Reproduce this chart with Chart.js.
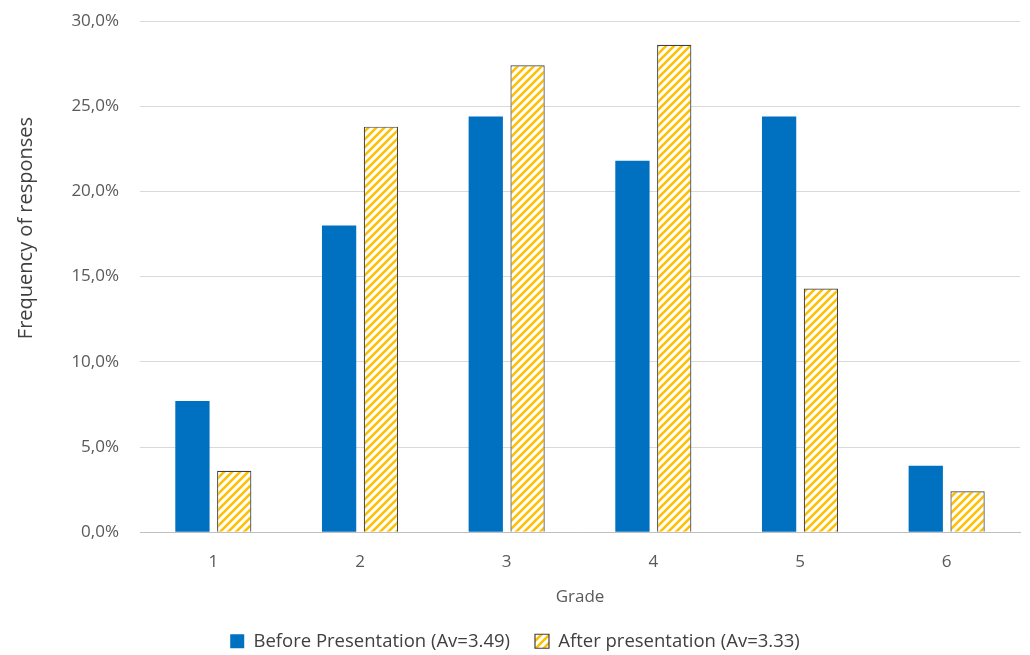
<!doctype html>
<html lang="en">
<head>
    <meta charset="UTF-8">
    <title>Grade frequencies</title>
    <script src="https://cdn.jsdelivr.net/npm/chart.js"></script>
    <style>
        html, body { margin: 0; padding: 0; background: #fff; }
        #wrap { width: 1030px; height: 655px; }
    </style>
</head>
<body>
<div id="wrap">
    <canvas id="gradeChart" width="1030" height="655"></canvas>
</div>
<script>
  const grades = ['1', '2', '3', '4', '5', '6'];
  const beforeValues = [7.7, 18.0, 24.4, 21.8, 24.4, 3.9];
  const afterValues = [3.6, 23.8, 27.4, 28.6, 14.3, 2.4];
  const beforeLabel = 'Before Presentation (Av=3.49)';
  const afterLabel = 'After presentation (Av=3.33)';
  const yTitle = 'Frequency of responses';
  const xTitle = 'Grade';

  function makeHatch() {
    const c = document.createElement('canvas');
    c.width = 8;
    c.height = 8;
    const ctx = c.getContext('2d');
    ctx.fillStyle = '#ffffff';
    ctx.fillRect(0, 0, 8, 8);
    ctx.strokeStyle = '#ffc000';
    ctx.lineWidth = 2.6;
    ctx.beginPath();
    // "/" stripes, tiled
    ctx.moveTo(-2, 10); ctx.lineTo(10, -2);
    ctx.moveTo(-2, 2); ctx.lineTo(2, -2);
    ctx.moveTo(6, 10); ctx.lineTo(10, 6);
    ctx.stroke();
    return ctx.createPattern(c, 'repeat');
  }

  const hatch = makeHatch();
  const font = "'Open Sans', 'DejaVu Sans', sans-serif";

  // the y title sits a bit above the middle of the plot, like the original
  const yTitlePlugin = {
    id: 'yTitle',
    afterDraw(chart) {
      const {ctx, chartArea} = chart;
      ctx.save();
      ctx.translate(26, chartArea.top + chartArea.height * 0.405);
      ctx.rotate(-Math.PI / 2);
      ctx.font = '20px ' + font;
      ctx.fillStyle = '#404040';
      ctx.textAlign = 'center';
      ctx.textBaseline = 'middle';
      ctx.fillText(yTitle, 0, 0);
      ctx.restore();
    }
  };

  new Chart(document.getElementById('gradeChart'), {
    type: 'bar',
    data: {
      labels: grades,
      datasets: [
        {
          label: beforeLabel,
          data: beforeValues,
          backgroundColor: '#0070c0',
          borderWidth: 0,
        },
        {
          label: afterLabel,
          data: afterValues,
          backgroundColor: hatch,
          borderColor: '#404040',
          borderWidth: 1.2,
        },
      ]
    },
    plugins: [yTitlePlugin],
    options: {
      responsive: false,
      animation: false,
      layout: {
        padding: { left: 10, right: 10, top: 0, bottom: 0 }
      },
      datasets: {
        bar: {
          categoryPercentage: 0.57,
          barPercentage: 0.82,
        }
      },
      plugins: {
        legend: {
          position: 'bottom',
          maxHeight: 48,
          labels: {
            font: { family: font, size: 18.5 },
            color: '#404040',
            boxWidth: 14,
            boxHeight: 14,
            padding: 25,
          },
        },
        tooltip: { enabled: false },
      },
      scales: {
        x: {
          grid: { display: false },
          border: { color: '#bfbfbf', width: 1 },
          ticks: {
            font: { family: font, size: 17 },
            color: '#595959',
            padding: 12,
          },
          title: {
            display: true,
            text: xTitle,
            font: { family: font, size: 17 },
            color: '#595959',
            padding: { top: 2, bottom: 0 },
          },
        },
        y: {
          min: 0,
          max: 30,
          afterFit: (scale) => {
            scale.width = 130;
            // tick padding is also added above the top label; keep the plot top where it was
            scale.paddingTop = 21;
            scale.paddingBottom = 10;
          },
          ticks: {
            stepSize: 5,
            font: { family: font, size: 17 },
            color: '#595959',
            padding: 21,
            callback: (v) => v.toFixed(1).replace('.', ',') + '%',
          },
          grid: { color: '#d9d9d9', drawTicks: false },
          border: { display: false },
        },
      },
    },
  });
</script>
</body>
</html>
